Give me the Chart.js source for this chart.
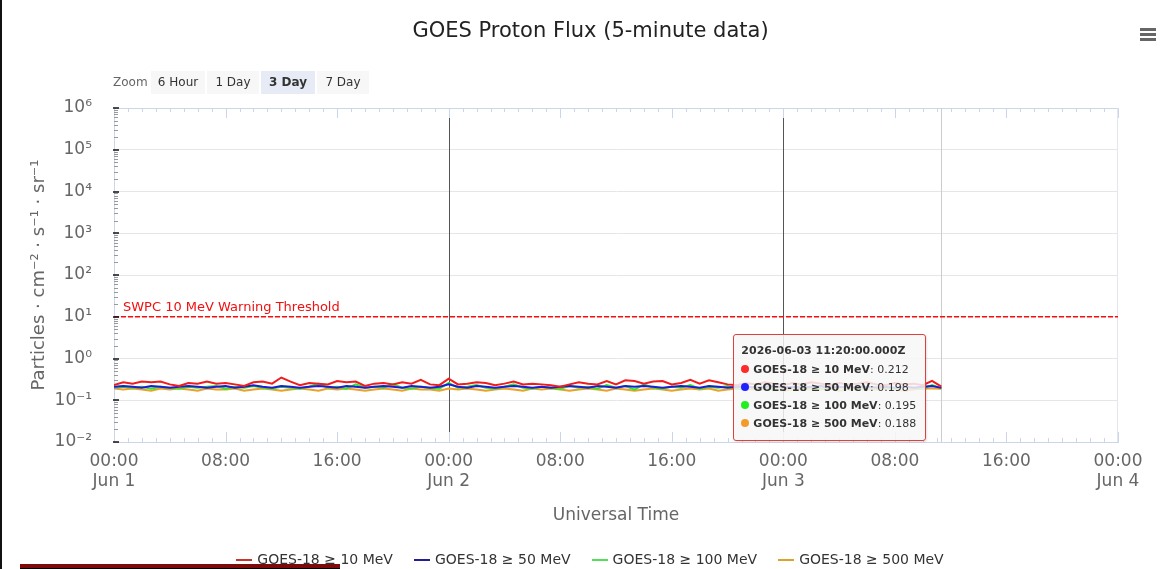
<!DOCTYPE html>
<html>
<head>
<meta charset="utf-8">
<script src="https://cdn.jsdelivr.net/npm/chart.js@4.4.1/dist/chart.umd.min.js"></script>
<style>
  body { margin: 0; width: 1161px; height: 569px; overflow: hidden; background: #fff; font-family: "DejaVu Sans", sans-serif; position: relative; }
  canvas { position: absolute; left: 0; top: 0; }
  .edge { position: absolute; left: 0; top: 0; width: 2px; height: 569px; background: #111; }
  .bar { position: absolute; left: 20px; top: 564px; width: 320px; height: 4px; background: #7d0b0b; border-bottom: 1px solid #000; }
  .zoom { position: absolute; left: 113px; top: 75px; font-size: 12px; color: #666; }
  .btn { position: absolute; top: 71px; height: 23px; line-height: 23px; font-size: 12px; color: #333; background: #f7f7f7; text-align: center; }
  .btn.sel { background: #e6ebf5; font-weight: bold; }
  .menu { position: absolute; left: 1140px; width: 16px; height: 3px; background: #666; }
  #legend { position: absolute; top: 551px; left: 0; width: 1180px; display: flex; justify-content: center; gap: 21px; font-size: 14px; color: #333; }
  #legend span.mk { display: inline-block; width: 16px; height: 2px; margin-right: 5px; vertical-align: middle; }
  #tip { position: absolute; box-sizing: border-box; width: 193px; height: 107px; padding: 7px 7px; background: rgba(247,247,247,0.85); border: 1px solid #e0403a; border-radius: 3px; font-size: 11px; color: #333; box-shadow: 1px 1px 2px rgba(0,0,0,0.12); display: none; }
  #tip .hd { font-weight: bold; margin: 2px 0 4px; }
  #tip .row { height: 18px; line-height: 18px; white-space: nowrap; }
  #tip .dot { display: inline-block; width: 8px; height: 8px; border-radius: 4px; margin-right: 4px; }
</style>
</head>
<body>
<canvas id="flux" width="1161" height="569"></canvas>
<div class="edge"></div>
<div class="zoom">Zoom</div>
<div class="btn" style="left:151px;width:54px">6 Hour</div>
<div class="btn" style="left:207px;width:52px">1 Day</div>
<div class="btn sel" style="left:261px;width:54px">3 Day</div>
<div class="btn" style="left:317px;width:52px">7 Day</div>
<div class="menu" style="top:28px"></div>
<div class="menu" style="top:33px"></div>
<div class="menu" style="top:38px"></div>
<div id="legend"></div>
<div id="tip"></div>
<div class="bar"></div>
<script>
// 40-minute samples starting 2026-06-01 00:00Z, last one at 06-03 11:20Z
const startMs = Date.UTC(2026, 5, 1);
const stepMin = 40;

const p10 = [
  0.23,0.27,0.25,0.28,0.27,0.28,0.24,0.22,0.26,0.25,
  0.28,0.25,0.26,0.24,0.22,0.27,0.28,0.25,0.35,0.28,
  0.23,0.26,0.25,0.24,0.29,0.27,0.28,0.22,0.25,0.26,
  0.24,0.27,0.25,0.31,0.24,0.23,0.33,0.24,0.25,0.27,
  0.26,0.23,0.25,0.28,0.24,0.25,0.24,0.23,0.21,0.24,
  0.27,0.25,0.24,0.29,0.24,0.30,0.29,0.25,0.28,0.29,
  0.24,0.26,0.31,0.25,0.30,0.27,0.24,0.23,0.26,0.24,
  0.27,0.25,0.23,0.26,0.24,0.27,0.25,0.23,0.26,0.24,
  0.25,0.27,0.24,0.23,0.26,0.24,0.25,0.23,0.29,0.212
];
const p50 = [
  0.21,0.22,0.21,0.20,0.22,0.21,0.20,0.21,0.22,0.21,
  0.20,0.21,0.22,0.20,0.21,0.23,0.21,0.20,0.22,0.21,
  0.20,0.21,0.22,0.21,0.20,0.22,0.21,0.20,0.21,0.22,
  0.21,0.20,0.22,0.21,0.20,0.21,0.24,0.21,0.20,0.22,
  0.21,0.20,0.21,0.22,0.21,0.20,0.21,0.20,0.21,0.22,
  0.21,0.20,0.22,0.21,0.20,0.22,0.21,0.22,0.21,0.20,
  0.21,0.22,0.21,0.20,0.22,0.21,0.20,0.21,0.21,0.20,
  0.21,0.22,0.20,0.21,0.20,0.21,0.22,0.20,0.21,0.20,
  0.21,0.21,0.20,0.21,0.20,0.21,0.20,0.21,0.22,0.198
];
const p100 = [
  0.20,0.21,0.20,0.21,0.19,0.21,0.20,0.19,0.21,0.20,
  0.21,0.22,0.19,0.21,0.20,0.22,0.20,0.19,0.21,0.20,
  0.19,0.21,0.25,0.20,0.21,0.19,0.24,0.20,0.21,0.20,
  0.24,0.20,0.19,0.21,0.20,0.19,0.26,0.20,0.21,0.23,
  0.20,0.19,0.21,0.24,0.20,0.19,0.21,0.20,0.19,0.22,
  0.20,0.21,0.19,0.23,0.20,0.22,0.18,0.24,0.20,0.19,
  0.21,0.20,0.23,0.19,0.21,0.20,0.22,0.19,0.20,0.21,
  0.20,0.19,0.21,0.20,0.22,0.20,0.19,0.21,0.20,0.21,
  0.19,0.20,0.21,0.20,0.19,0.21,0.20,0.19,0.23,0.195
];
const p500 = [
  0.19,0.18,0.19,0.18,0.17,0.19,0.18,0.19,0.18,0.17,
  0.19,0.18,0.18,0.19,0.17,0.18,0.19,0.18,0.17,0.18,
  0.19,0.18,0.17,0.19,0.18,0.19,0.18,0.17,0.18,0.19,
  0.18,0.17,0.19,0.18,0.18,0.17,0.19,0.18,0.19,0.18,
  0.17,0.18,0.19,0.18,0.17,0.19,0.18,0.19,0.18,0.17,
  0.18,0.19,0.18,0.17,0.19,0.18,0.17,0.18,0.19,0.18,
  0.17,0.18,0.19,0.18,0.19,0.17,0.18,0.19,0.18,0.18,
  0.19,0.18,0.17,0.18,0.19,0.18,0.18,0.19,0.17,0.18,
  0.19,0.18,0.18,0.19,0.18,0.17,0.18,0.19,0.19,0.188
];

const seriesNames = ['GOES-18 \u2265 10 MeV', 'GOES-18 \u2265 50 MeV', 'GOES-18 \u2265 100 MeV', 'GOES-18 \u2265 500 MeV'];
const seriesColors = ['#ee1c1c', '#1c1cd8', '#2ee82e', '#eaa02a'];
const legendColors = ['#c8352b', '#1f1f9a', '#55dd55', '#d9a32c'];
const tipColors = ['#ff2a2a', '#2222ff', '#22ee22', '#f29b2c'];

const xTickHours = [0, 8, 16, 24, 32, 40, 48, 56, 64, 72];
const xTimeLabels = ['00:00', '08:00', '16:00'];
const xDayLabels = ['Jun 1', 'Jun 2', 'Jun 3', 'Jun 4'];
const dayLines = [24, 48];
const yTickValues = [1e-2, 1e-1, 1, 1e1, 1e2, 1e3, 1e4, 1e5, 1e6];
const yTickLabels = ['10\u207B\u00B2', '10\u207B\u00B9', '10\u2070', '10\u00B9', '10\u00B2', '10\u00B3', '10\u2074', '10\u2075', '10\u2076'];
const yTitle = 'Particles \u00B7 cm\u207B\u00B2 \u00B7 s\u207B\u00B9 \u00B7 sr\u207B\u00B9';
const threshold = 10;
const thresholdLabel = 'SWPC 10 MeV Warning Threshold';

const FONT = '"DejaVu Sans", sans-serif';
const series = [p10, p50, p100, p500];

const toPoints = arr => arr.map((v, i) => ({ x: i * stepMin / 60, y: v }));

// plot lines, threshold and the highcharts-like tick marks
const extras = {
  id: 'extras',
  beforeDatasetsDraw(chart) {
    const { ctx, chartArea: a, scales: { x, y } } = chart;
    ctx.save();
    ctx.strokeStyle = '#ccd6eb'; ctx.lineWidth = 1;
    ctx.beginPath(); ctx.moveTo(a.left, a.top + 0.5); ctx.lineTo(a.right, a.top + 0.5); ctx.stroke();
    ctx.strokeStyle = '#e3e6ec';
    ctx.beginPath(); ctx.moveTo(a.right - 0.5, a.top); ctx.lineTo(a.right - 0.5, a.bottom); ctx.stroke();

    ctx.strokeStyle = '#555555';
    dayLines.forEach(h => {
      const px = Math.round(x.getPixelForValue(h)) + 0.5;
      ctx.beginPath(); ctx.moveTo(px, a.top + 10); ctx.lineTo(px, a.bottom - 10); ctx.stroke();
    });

    const lastX = Math.round(x.getPixelForValue((p10.length - 1) * stepMin / 60)) + 0.5;
    ctx.strokeStyle = '#cccccc';
    ctx.beginPath(); ctx.moveTo(lastX, a.top); ctx.lineTo(lastX, a.bottom); ctx.stroke();

    // dashed warning threshold drawn as small filled segments so it stays crisp red
    const ty = Math.round(y.getPixelForValue(threshold));
    ctx.fillStyle = '#f01010';
    for (let px = a.left; px < a.right; px += 7) {
      ctx.fillRect(px, ty - 1, Math.min(5, a.right - px), 1.5);
    }
    ctx.font = '13px ' + FONT; ctx.textBaseline = 'middle';
    ctx.fillText(thresholdLabel, a.left + 9, ty - 9);
    ctx.restore();
  },
  afterDraw(chart) {
    const { ctx, chartArea: a, scales: { x, y } } = chart;
    ctx.save();
    ctx.lineWidth = 1;
    ctx.strokeStyle = '#ccd6eb';
    for (let h = 0; h <= 72; h++) {
      const px = Math.round(x.getPixelForValue(h)) + 0.5;
      const len = h % 8 === 0 ? 10 : 4;
      ctx.beginPath();
      ctx.moveTo(px, a.bottom); ctx.lineTo(px, a.bottom - len);
      ctx.moveTo(px, a.top); ctx.lineTo(px, a.top + len);
      ctx.stroke();
    }
    ctx.strokeStyle = '#999';
    for (let d = -2; d < 6; d++) {
      for (let k = 2; k < 10; k++) {
        const py = Math.round(y.getPixelForValue(k * Math.pow(10, d))) + 0.5;
        ctx.beginPath(); ctx.moveTo(a.left, py); ctx.lineTo(a.left + 4, py); ctx.stroke();
      }
    }
    ctx.strokeStyle = '#111'; ctx.lineWidth = 1.5;
    yTickValues.forEach(v => {
      const py = Math.round(y.getPixelForValue(v));
      ctx.beginPath(); ctx.moveTo(a.left - 1, py); ctx.lineTo(a.left + 5, py); ctx.stroke();
    });
    ctx.restore();
  }
};

function drawTip(context) {
  const { tooltip } = context;
  const el = document.getElementById('tip');
  if (!tooltip.dataPoints || !tooltip.dataPoints.length) { el.style.display = 'none'; return; }
  const h = tooltip.dataPoints[0].parsed.x;
  const stamp = new Date(startMs + Math.round(h * 60) * 60000).toISOString().replace('T', ' ');
  el.innerHTML = '<div class="hd">' + stamp + '</div>' + tooltip.dataPoints.map(dp =>
    '<div class="row"><span class="dot" style="background:' + tipColors[dp.datasetIndex] + '"></span><b>' +
    seriesNames[dp.datasetIndex] + '</b>: ' + dp.parsed.y.toFixed(3) + '</div>').join('');
  el.style.left = (tooltip.caretX - 208) + 'px';
  el.style.top = '334px';
  el.style.display = 'block';
}

const chart = new Chart(document.getElementById('flux'), {
  type: 'line',
  data: {
    datasets: series.map((s, i) => ({
      label: seriesNames[i], data: toPoints(s), borderColor: seriesColors[i], backgroundColor: seriesColors[i],
      borderWidth: 2, pointRadius: 0, tension: 0
    }))
  },
  options: {
    responsive: false, animation: false,
    layout: { padding: { left: 20, right: 0, top: 0, bottom: 0 } },
    interaction: { mode: 'index', intersect: false },
    plugins: {
      legend: { display: false },
      title: { display: true, text: 'GOES Proton Flux (5-minute data)', color: '#222',
        font: { family: FONT, size: 21, weight: 'normal' }, padding: { top: 18.5, bottom: 64.3 } },
      tooltip: { enabled: false, external: drawTip }
    },
    scales: {
      x: {
        type: 'linear', min: 0, max: 72,
        afterBuildTicks: s => { s.ticks = xTickHours.map(v => ({ value: v })); },
        afterFit: s => { s.height = 127; },
        grid: { display: false, drawTicks: false },
        border: { color: '#ccd6eb' },
        ticks: {
          callback: v => v % 24 === 0 ? [xTimeLabels[0], xDayLabels[v / 24]] : xTimeLabels[(v % 24) / 8],
          color: '#666', font: { family: FONT, size: 17 }, padding: 9, maxRotation: 0, autoSkip: false
        },
        title: { display: true, text: 'Universal Time', color: '#666', font: { family: FONT, size: 17 }, padding: { top: 0, bottom: 43 } }
      },
      y: {
        type: 'logarithmic', min: 1e-2, max: 1e6,
        afterBuildTicks: s => { s.ticks = yTickValues.map(v => ({ value: v })); },
        afterFit: s => { s.width = 94; },
        grid: { color: '#e6e6e6', drawTicks: false },
        border: { color: '#ccd6eb' },
        ticks: {
          callback: v => yTickLabels[yTickValues.findIndex(t => Math.abs(Math.log10(t) - Math.log10(v)) < 1e-6)],
          color: '#666', font: { family: FONT, size: 17 }, padding: 22
        },
        title: { display: true, text: yTitle, color: '#666', font: { family: FONT, size: 18 }, padding: { top: 9, bottom: 0 } }
      },
      // empty right-hand axis that only reserves the right margin
      yr: {
        type: 'linear', position: 'right', display: true,
        afterFit: s => { s.width = 43; },
        grid: { display: false, drawTicks: false }, border: { display: false }, ticks: { display: false }
      }
    }
  },
  plugins: [extras]
});

document.getElementById('legend').innerHTML = seriesNames.map((n, i) =>
  '<div><span class="mk" style="background:' + legendColors[i] + '"></span>' + n + '</div>').join('');

const last = p10.length - 1;
chart.tooltip.setActiveElements(series.map((s, i) => ({ datasetIndex: i, index: last })),
  { x: chart.scales.x.getPixelForValue(last * stepMin / 60), y: 380 });
</script>
</body>
</html>
